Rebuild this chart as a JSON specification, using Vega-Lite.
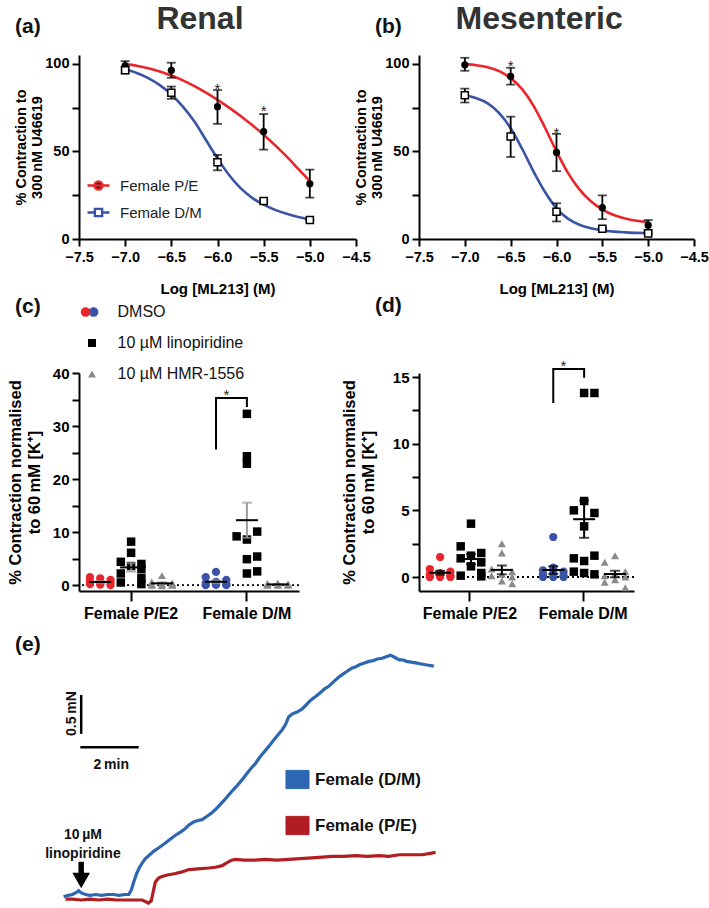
{
"$schema": "https://vega.github.io/schema/vega-lite/v6.json",
"padding": {"left": 7, "top": 3, "right": 0, "bottom": 0},
"bounds": "flush",
"spacing": 318,
"resolve": {"scale": {"color": "independent", "fill": "independent", "shape": "independent"}},
"config": {
  "font": "Liberation Sans",
  "view": {"stroke": null},
  "axis": {"grid": false, "domain": true, "ticks": true, "domainColor": "#000", "domainWidth": 2, "tickColor": "#000", "tickWidth": 2, "labelColor": "#000", "labelFontWeight": "bold", "titleColor": "#000", "titleFontWeight": "bold", "labelFont": "Liberation Sans", "titleFont": "Liberation Sans"},
  "legend": {"labelFont": "Liberation Sans"},
  "title": {"font": "Liberation Sans"},
  "text": {"font": "Liberation Sans"}
},
"vconcat": [
{
"hconcat": [
{
"width": 277, "height": 184,
"layer": [
 {"data": {"values": [
  {"s":"Female P/E","x":-7,"y":99.8},{"s":"Female P/E","x":-6.875,"y":98.9},{"s":"Female P/E","x":-6.75,"y":97.4},{"s":"Female P/E","x":-6.625,"y":95.6},{"s":"Female P/E","x":-6.5,"y":93.3},{"s":"Female P/E","x":-6.375,"y":90.5},{"s":"Female P/E","x":-6.25,"y":87.2},{"s":"Female P/E","x":-6.125,"y":83.5},{"s":"Female P/E","x":-6,"y":79.4},{"s":"Female P/E","x":-5.875,"y":75},{"s":"Female P/E","x":-5.75,"y":70.2},{"s":"Female P/E","x":-5.625,"y":65},{"s":"Female P/E","x":-5.5,"y":59.5},{"s":"Female P/E","x":-5.375,"y":53.4},{"s":"Female P/E","x":-5.25,"y":47},{"s":"Female P/E","x":-5.125,"y":40},{"s":"Female P/E","x":-5,"y":33},
  {"s":"Female D/M","x":-7,"y":96.8},{"s":"Female D/M","x":-6.875,"y":94.7},{"s":"Female D/M","x":-6.75,"y":91.8},{"s":"Female D/M","x":-6.625,"y":87.8},{"s":"Female D/M","x":-6.5,"y":82.5},{"s":"Female D/M","x":-6.375,"y":75.5},{"s":"Female D/M","x":-6.25,"y":67},{"s":"Female D/M","x":-6.125,"y":56.5},{"s":"Female D/M","x":-6,"y":46},{"s":"Female D/M","x":-5.875,"y":36.5},{"s":"Female D/M","x":-5.75,"y":29},{"s":"Female D/M","x":-5.625,"y":23.5},{"s":"Female D/M","x":-5.5,"y":19.6},{"s":"Female D/M","x":-5.375,"y":16.6},{"s":"Female D/M","x":-5.25,"y":14.4},{"s":"Female D/M","x":-5.125,"y":12.6},{"s":"Female D/M","x":-5,"y":11.2}
 ]},
 "mark": {"type": "line", "interpolate": "monotone", "strokeWidth": 2.6},
 "encoding": {
  "x": {"field": "x", "type": "quantitative", "scale": {"domain": [-7.5, -4.5], "nice": false, "zero": false}, "axis": {"values": [-7.5,-7,-6.5,-6,-5.5,-5,-4.5], "format": ".1f", "labelFontSize": 14.5, "labelFlush": false, "labelOverlap": false, "tickSize": 7, "labelPadding": 4, "title": "Log [ML213] (M)", "titleFontSize": 15, "titlePadding": 17.5}},
  "y": {"field": "y", "type": "quantitative", "scale": {"domain": [0, 105], "nice": false, "zero": false}, "axis": {"values": [0,25,50,75,100], "labelExpr": "datum.value % 50 === 0 ? datum.label : ''", "labelFontSize": 14.5, "labelOverlap": false, "tickSize": 7, "labelPadding": 3, "title": ["% Contraction to", "300\u2009nM U46619"], "titleFontSize": 14.5, "titlePadding": 0}},
  "color": {"field": "s", "type": "nominal", "scale": {"domain": ["Female P/E", "Female D/M"], "range": ["#e8262b", "#3a54a4"]},
   "legend": {"orient": "none", "legendX": 7, "legendY": 118, "title": null, "padding": 0, "symbolSize": 484, "symbolStrokeWidth": 2.4, "labelFontSize": 15, "labelFontWeight": "normal", "labelColor": "#222", "labelOffset": 9, "rowPadding": 5,
    "encode": {"symbols": {"update": {
      "shape": {"signal": "datum.value === 'Female P/E' ? 'M-1,0H1M0.36,0A0.36,0.36 0 1,1 -0.36,0A0.36,0.36 0 1,1 0.36,0Z' : 'M-1,0H-0.33M0.33,0H1M-0.33,-0.33H0.33V0.33H-0.33Z'"},
      "fill": {"signal": "datum.value === 'Female P/E' ? '#000000' : '#ffffff'"},
      "fillOpacity": {"value": 1}}}}}}
 }},
 {"data": {"values": [
  {"s":"Female P/E","x":-7,"y":99,"lo":96.5,"hi":101.5},{"s":"Female P/E","x":-6.5,"y":96.3,"lo":92,"hi":100.6},{"s":"Female P/E","x":-6,"y":75.5,"lo":65.7,"hi":85},{"s":"Female P/E","x":-5.5,"y":61.3,"lo":51,"hi":71.3},{"s":"Female P/E","x":-5,"y":31.5,"lo":23.6,"hi":39.6},
  {"s":"Female D/M","x":-7,"y":96.3,"lo":94.5,"hi":98},{"s":"Female D/M","x":-6.5,"y":83.5,"lo":80,"hi":87},{"s":"Female D/M","x":-6,"y":43.8,"lo":39.2,"hi":48},{"s":"Female D/M","x":-5.5,"y":21.7,"lo":21,"hi":22.4},{"s":"Female D/M","x":-5,"y":10.8,"lo":10.3,"hi":11.3}
 ]},
 "layer": [
  {"mark": {"type": "errorbar", "ticks": true, "size": 9, "thickness": 1.8, "color": "black"},
   "encoding": {
    "x": {"field": "x", "type": "quantitative", "scale": {"domain": [-7.5, -4.5], "nice": false, "zero": false}, "axis": {"values": [-7.5,-7,-6.5,-6,-5.5,-5,-4.5], "format": ".1f", "labelFontSize": 14.5, "labelFlush": false, "labelOverlap": false, "tickSize": 7, "labelPadding": 4, "title": "Log [ML213] (M)", "titleFontSize": 15, "titlePadding": 17.5}},
    "y": {"field": "lo", "type": "quantitative", "scale": {"domain": [0, 105], "nice": false, "zero": false}, "axis": {"values": [0,25,50,75,100], "labelExpr": "datum.value % 50 === 0 ? datum.label : ''", "labelFontSize": 14.5, "labelOverlap": false, "tickSize": 7, "labelPadding": 3, "title": ["% Contraction to", "300\u2009nM U46619"], "titleFontSize": 14.5, "titlePadding": 0}},
    "y2": {"field": "hi"}}},
  {"transform": [{"filter": "datum.s === 'Female P/E'"}],
   "mark": {"type": "point", "shape": "circle", "filled": true, "color": "black", "size": 52, "opacity": 1},
   "encoding": {
    "x": {"field": "x", "type": "quantitative", "scale": {"domain": [-7.5, -4.5], "nice": false, "zero": false}, "axis": {"values": [-7.5,-7,-6.5,-6,-5.5,-5,-4.5], "format": ".1f", "labelFontSize": 14.5, "labelFlush": false, "labelOverlap": false, "tickSize": 7, "labelPadding": 4, "title": "Log [ML213] (M)", "titleFontSize": 15, "titlePadding": 17.5}},
    "y": {"field": "y", "type": "quantitative", "scale": {"domain": [0, 105], "nice": false, "zero": false}, "axis": {"values": [0,25,50,75,100], "labelExpr": "datum.value % 50 === 0 ? datum.label : ''", "labelFontSize": 14.5, "labelOverlap": false, "tickSize": 7, "labelPadding": 3, "title": ["% Contraction to", "300\u2009nM U46619"], "titleFontSize": 14.5, "titlePadding": 0}}}},
  {"transform": [{"filter": "datum.s === 'Female D/M'"}],
   "mark": {"type": "point", "shape": "square", "filled": true, "fill": "white", "stroke": "black", "strokeWidth": 1.5, "size": 50, "opacity": 1},
   "encoding": {
    "x": {"field": "x", "type": "quantitative", "scale": {"domain": [-7.5, -4.5], "nice": false, "zero": false}, "axis": {"values": [-7.5,-7,-6.5,-6,-5.5,-5,-4.5], "format": ".1f", "labelFontSize": 14.5, "labelFlush": false, "labelOverlap": false, "tickSize": 7, "labelPadding": 4, "title": "Log [ML213] (M)", "titleFontSize": 15, "titlePadding": 17.5}},
    "y": {"field": "y", "type": "quantitative", "scale": {"domain": [0, 105], "nice": false, "zero": false}, "axis": {"values": [0,25,50,75,100], "labelExpr": "datum.value % 50 === 0 ? datum.label : ''", "labelFontSize": 14.5, "labelOverlap": false, "tickSize": 7, "labelPadding": 3, "title": ["% Contraction to", "300\u2009nM U46619"], "titleFontSize": 14.5, "titlePadding": 0}}}}
 ]},
 {"data": {"values": [{"x": -6, "y": 89.6}, {"x": -5.5, "y": 77}]},
  "mark": {"type": "text", "text": "*", "fontSize": 15, "dy": 7, "color": "#222"},
  "encoding": {
   "x": {"field": "x", "type": "quantitative", "scale": {"domain": [-7.5, -4.5], "nice": false, "zero": false}, "axis": {"values": [-7.5,-7,-6.5,-6,-5.5,-5,-4.5], "format": ".1f", "labelFontSize": 14.5, "labelFlush": false, "labelOverlap": false, "tickSize": 7, "labelPadding": 4, "title": "Log [ML213] (M)", "titleFontSize": 15, "titlePadding": 17.5}},
   "y": {"field": "y", "type": "quantitative", "scale": {"domain": [0, 105], "nice": false, "zero": false}, "axis": {"values": [0,25,50,75,100], "labelExpr": "datum.value % 50 === 0 ? datum.label : ''", "labelFontSize": 14.5, "labelOverlap": false, "tickSize": 7, "labelPadding": 3, "title": ["% Contraction to", "300\u2009nM U46619"], "titleFontSize": 14.5, "titlePadding": 0}}}},
 {"data": {"values": [{"lab": "(a)", "x": -8.193, "y": 121}]},
  "mark": {"type": "text", "fontSize": 21, "fontWeight": "bold", "align": "left", "baseline": "middle", "color": "#111"},
  "encoding": {
   "text": {"field": "lab"},
   "x": {"field": "x", "type": "quantitative", "scale": {"domain": [-7.5, -4.5], "nice": false, "zero": false}, "axis": {"values": [-7.5,-7,-6.5,-6,-5.5,-5,-4.5], "format": ".1f", "labelFontSize": 14.5, "labelFlush": false, "labelOverlap": false, "tickSize": 7, "labelPadding": 4, "title": "Log [ML213] (M)", "titleFontSize": 15, "titlePadding": 17.5}},
   "y": {"field": "y", "type": "quantitative", "scale": {"domain": [0, 105], "nice": false, "zero": false}, "axis": {"values": [0,25,50,75,100], "labelExpr": "datum.value % 50 === 0 ? datum.label : ''", "labelFontSize": 14.5, "labelOverlap": false, "tickSize": 7, "labelPadding": 3, "title": ["% Contraction to", "300\u2009nM U46619"], "titleFontSize": 14.5, "titlePadding": 0}}}},
 {"data": {"values": [{"lab": "Renal", "x": -6.19, "y": 125.4}]},
  "mark": {"type": "text", "fontSize": 32, "fontWeight": "bold", "align": "center", "baseline": "middle", "color": "#333"},
  "encoding": {
   "text": {"field": "lab"},
   "x": {"field": "x", "type": "quantitative", "scale": {"domain": [-7.5, -4.5], "nice": false, "zero": false}, "axis": {"values": [-7.5,-7,-6.5,-6,-5.5,-5,-4.5], "format": ".1f", "labelFontSize": 14.5, "labelFlush": false, "labelOverlap": false, "tickSize": 7, "labelPadding": 4, "title": "Log [ML213] (M)", "titleFontSize": 15, "titlePadding": 17.5}},
   "y": {"field": "y", "type": "quantitative", "scale": {"domain": [0, 105], "nice": false, "zero": false}, "axis": {"values": [0,25,50,75,100], "labelExpr": "datum.value % 50 === 0 ? datum.label : ''", "labelFontSize": 14.5, "labelOverlap": false, "tickSize": 7, "labelPadding": 3, "title": ["% Contraction to", "300\u2009nM U46619"], "titleFontSize": 14.5, "titlePadding": 0}}}}
]
},
{
"width": 275, "height": 184,
"layer": [
 {"data": {"values": [
  {"s":"Female P/E","x":-7,"y":99.8},{"s":"Female P/E","x":-6.875,"y":99.2},{"s":"Female P/E","x":-6.75,"y":98},{"s":"Female P/E","x":-6.625,"y":95.8},{"s":"Female P/E","x":-6.5,"y":91.8},{"s":"Female P/E","x":-6.375,"y":85.5},{"s":"Female P/E","x":-6.25,"y":76},{"s":"Female P/E","x":-6.125,"y":63.5},{"s":"Female P/E","x":-6,"y":50},{"s":"Female P/E","x":-5.875,"y":37.7},{"s":"Female P/E","x":-5.75,"y":28.3},{"s":"Female P/E","x":-5.625,"y":21.5},{"s":"Female P/E","x":-5.5,"y":16.8},{"s":"Female P/E","x":-5.375,"y":13.7},{"s":"Female P/E","x":-5.25,"y":11.7},{"s":"Female P/E","x":-5.125,"y":10.4},{"s":"Female P/E","x":-5,"y":9.6},
  {"s":"Female D/M","x":-7,"y":82},{"s":"Female D/M","x":-6.875,"y":80.3},{"s":"Female D/M","x":-6.75,"y":77.4},{"s":"Female D/M","x":-6.625,"y":71.8},{"s":"Female D/M","x":-6.5,"y":63.2},{"s":"Female D/M","x":-6.375,"y":51.5},{"s":"Female D/M","x":-6.25,"y":38.5},{"s":"Female D/M","x":-6.125,"y":26.8},{"s":"Female D/M","x":-6,"y":17.5},{"s":"Female D/M","x":-5.875,"y":11.6},{"s":"Female D/M","x":-5.75,"y":8.1},{"s":"Female D/M","x":-5.625,"y":6.1},{"s":"Female D/M","x":-5.5,"y":4.9},{"s":"Female D/M","x":-5.375,"y":4.2},{"s":"Female D/M","x":-5.25,"y":3.8},{"s":"Female D/M","x":-5.125,"y":3.5},{"s":"Female D/M","x":-5,"y":3.4}
 ]},
 "mark": {"type": "line", "interpolate": "monotone", "strokeWidth": 2.6},
 "encoding": {
  "x": {"field": "x", "type": "quantitative", "scale": {"domain": [-7.5, -4.5], "nice": false, "zero": false}, "axis": {"values": [-7.5,-7,-6.5,-6,-5.5,-5,-4.5], "format": ".1f", "labelFontSize": 14.5, "labelFlush": false, "labelOverlap": false, "tickSize": 7, "labelPadding": 4, "title": "Log [ML213] (M)", "titleFontSize": 15, "titlePadding": 17.5}},
  "y": {"field": "y", "type": "quantitative", "scale": {"domain": [0, 105], "nice": false, "zero": false}, "axis": {"values": [0,25,50,75,100], "labelExpr": "datum.value % 50 === 0 ? datum.label : ''", "labelFontSize": 14.5, "labelOverlap": false, "tickSize": 7, "labelPadding": 3, "title": ["% Contraction to", "300\u2009nM U46619"], "titleFontSize": 14.5, "titlePadding": 0}},
  "color": {"field": "s", "type": "nominal", "scale": {"domain": ["Female P/E", "Female D/M"], "range": ["#e8262b", "#3a54a4"]}, "legend": null}
 }},
 {"data": {"values": [
  {"s":"Female P/E","x":-7,"y":99.4,"lo":96,"hi":103.4},{"s":"Female P/E","x":-6.5,"y":92.8,"lo":88.1,"hi":97.7},{"s":"Female P/E","x":-6,"y":49.4,"lo":38.7,"hi":60},{"s":"Female P/E","x":-5.5,"y":17.9,"lo":11.3,"hi":24.9},{"s":"Female P/E","x":-5,"y":7.9,"lo":5.1,"hi":10.8},
  {"s":"Female D/M","x":-7,"y":82,"lo":77.9,"hi":85.8},{"s":"Female D/M","x":-6.5,"y":58.5,"lo":46.8,"hi":69.8},{"s":"Female D/M","x":-6,"y":15.5,"lo":10,"hi":20.4},{"s":"Female D/M","x":-5.5,"y":5.8,"lo":5.2,"hi":6.4},{"s":"Female D/M","x":-5,"y":3.2,"lo":2.6,"hi":3.8}
 ]},
 "layer": [
  {"mark": {"type": "errorbar", "ticks": true, "size": 9, "thickness": 1.8, "color": "black"},
   "encoding": {
    "x": {"field": "x", "type": "quantitative", "scale": {"domain": [-7.5, -4.5], "nice": false, "zero": false}, "axis": {"values": [-7.5,-7,-6.5,-6,-5.5,-5,-4.5], "format": ".1f", "labelFontSize": 14.5, "labelFlush": false, "labelOverlap": false, "tickSize": 7, "labelPadding": 4, "title": "Log [ML213] (M)", "titleFontSize": 15, "titlePadding": 17.5}},
    "y": {"field": "lo", "type": "quantitative", "scale": {"domain": [0, 105], "nice": false, "zero": false}, "axis": {"values": [0,25,50,75,100], "labelExpr": "datum.value % 50 === 0 ? datum.label : ''", "labelFontSize": 14.5, "labelOverlap": false, "tickSize": 7, "labelPadding": 3, "title": ["% Contraction to", "300\u2009nM U46619"], "titleFontSize": 14.5, "titlePadding": 0}},
    "y2": {"field": "hi"}}},
  {"transform": [{"filter": "datum.s === 'Female P/E'"}],
   "mark": {"type": "point", "shape": "circle", "filled": true, "color": "black", "size": 52, "opacity": 1},
   "encoding": {
    "x": {"field": "x", "type": "quantitative", "scale": {"domain": [-7.5, -4.5], "nice": false, "zero": false}, "axis": {"values": [-7.5,-7,-6.5,-6,-5.5,-5,-4.5], "format": ".1f", "labelFontSize": 14.5, "labelFlush": false, "labelOverlap": false, "tickSize": 7, "labelPadding": 4, "title": "Log [ML213] (M)", "titleFontSize": 15, "titlePadding": 17.5}},
    "y": {"field": "y", "type": "quantitative", "scale": {"domain": [0, 105], "nice": false, "zero": false}, "axis": {"values": [0,25,50,75,100], "labelExpr": "datum.value % 50 === 0 ? datum.label : ''", "labelFontSize": 14.5, "labelOverlap": false, "tickSize": 7, "labelPadding": 3, "title": ["% Contraction to", "300\u2009nM U46619"], "titleFontSize": 14.5, "titlePadding": 0}}}},
  {"transform": [{"filter": "datum.s === 'Female D/M'"}],
   "mark": {"type": "point", "shape": "square", "filled": true, "fill": "white", "stroke": "black", "strokeWidth": 1.5, "size": 50, "opacity": 1},
   "encoding": {
    "x": {"field": "x", "type": "quantitative", "scale": {"domain": [-7.5, -4.5], "nice": false, "zero": false}, "axis": {"values": [-7.5,-7,-6.5,-6,-5.5,-5,-4.5], "format": ".1f", "labelFontSize": 14.5, "labelFlush": false, "labelOverlap": false, "tickSize": 7, "labelPadding": 4, "title": "Log [ML213] (M)", "titleFontSize": 15, "titlePadding": 17.5}},
    "y": {"field": "y", "type": "quantitative", "scale": {"domain": [0, 105], "nice": false, "zero": false}, "axis": {"values": [0,25,50,75,100], "labelExpr": "datum.value % 50 === 0 ? datum.label : ''", "labelFontSize": 14.5, "labelOverlap": false, "tickSize": 7, "labelPadding": 3, "title": ["% Contraction to", "300\u2009nM U46619"], "titleFontSize": 14.5, "titlePadding": 0}}}}
 ]},
 {"data": {"values": [{"x": -6.5, "y": 102.8}, {"x": -6, "y": 64.5}]},
  "mark": {"type": "text", "text": "*", "fontSize": 15, "dy": 7, "color": "#222"},
  "encoding": {
   "x": {"field": "x", "type": "quantitative", "scale": {"domain": [-7.5, -4.5], "nice": false, "zero": false}, "axis": {"values": [-7.5,-7,-6.5,-6,-5.5,-5,-4.5], "format": ".1f", "labelFontSize": 14.5, "labelFlush": false, "labelOverlap": false, "tickSize": 7, "labelPadding": 4, "title": "Log [ML213] (M)", "titleFontSize": 15, "titlePadding": 17.5}},
   "y": {"field": "y", "type": "quantitative", "scale": {"domain": [0, 105], "nice": false, "zero": false}, "axis": {"values": [0,25,50,75,100], "labelExpr": "datum.value % 50 === 0 ? datum.label : ''", "labelFontSize": 14.5, "labelOverlap": false, "tickSize": 7, "labelPadding": 3, "title": ["% Contraction to", "300\u2009nM U46619"], "titleFontSize": 14.5, "titlePadding": 0}}}},
 {"data": {"values": [{"lab": "(b)", "x": -7.98, "y": 121}]},
  "mark": {"type": "text", "fontSize": 21, "fontWeight": "bold", "align": "left", "baseline": "middle", "color": "#111"},
  "encoding": {
   "text": {"field": "lab"},
   "x": {"field": "x", "type": "quantitative", "scale": {"domain": [-7.5, -4.5], "nice": false, "zero": false}, "axis": {"values": [-7.5,-7,-6.5,-6,-5.5,-5,-4.5], "format": ".1f", "labelFontSize": 14.5, "labelFlush": false, "labelOverlap": false, "tickSize": 7, "labelPadding": 4, "title": "Log [ML213] (M)", "titleFontSize": 15, "titlePadding": 17.5}},
   "y": {"field": "y", "type": "quantitative", "scale": {"domain": [0, 105], "nice": false, "zero": false}, "axis": {"values": [0,25,50,75,100], "labelExpr": "datum.value % 50 === 0 ? datum.label : ''", "labelFontSize": 14.5, "labelOverlap": false, "tickSize": 7, "labelPadding": 3, "title": ["% Contraction to", "300\u2009nM U46619"], "titleFontSize": 14.5, "titlePadding": 0}}}},
 {"data": {"values": [{"lab": "Mesenteric", "x": -6.19, "y": 125.4}]},
  "mark": {"type": "text", "fontSize": 32, "fontWeight": "bold", "align": "center", "baseline": "middle", "color": "#333"},
  "encoding": {
   "text": {"field": "lab"},
   "x": {"field": "x", "type": "quantitative", "scale": {"domain": [-7.5, -4.5], "nice": false, "zero": false}, "axis": {"values": [-7.5,-7,-6.5,-6,-5.5,-5,-4.5], "format": ".1f", "labelFontSize": 14.5, "labelFlush": false, "labelOverlap": false, "tickSize": 7, "labelPadding": 4, "title": "Log [ML213] (M)", "titleFontSize": 15, "titlePadding": 17.5}},
   "y": {"field": "y", "type": "quantitative", "scale": {"domain": [0, 105], "nice": false, "zero": false}, "axis": {"values": [0,25,50,75,100], "labelExpr": "datum.value % 50 === 0 ? datum.label : ''", "labelFontSize": 14.5, "labelOverlap": false, "tickSize": 7, "labelPadding": 3, "title": ["% Contraction to", "300\u2009nM U46619"], "titleFontSize": 14.5, "titlePadding": 0}}}}
]
}
],
"spacing": 63, "bounds": "flush",
"resolve": {"scale": {"color": "independent", "fill": "independent", "shape": "independent"}}
},
{
"hconcat": [
{
"width": 220, "height": 218,
"title": {"text": "(c)", "anchor": "start", "frame": "group", "dx": -64, "offset": -34, "fontSize": 21, "fontWeight": "bold", "color": "#111", "baseline": "bottom"},
"resolve": {"scale": {"color": "independent", "shape": "independent", "fill": "independent"}},
"layer": [
 {"data": {"values": [{"z": 0}]}, "mark": {"type": "rule", "strokeDash": [2, 3], "strokeWidth": 1.8, "color": "black"},
  "encoding": {"y": {"field": "z", "type": "quantitative", "scale": {"domain": [-1.1, 40], "nice": false, "zero": false}, "axis": {"values": [0,5,10,15,20,25,30,35,40], "labelExpr": "datum.value % 10 === 0 ? datum.label : ''", "labelFontSize": 15, "labelOverlap": false, "tickSize": 7, "labelPadding": 3, "title": ["% Contraction normalised", "to 60\u2009mM [K\u207a]"], "titleFontSize": 16.5, "titlePadding": 10}}}},
 {"data": {"values": [
  {"g":"P","t":"DMSO","s":"DMSO<","v":1.5},{"g":"P","t":"DMSO","s":"DMSO","v":1.3},{"g":"P","t":"DMSO","s":"DMSO>","v":1.0},{"g":"P","t":"DMSO","s":"DMSO<","v":0.7},{"g":"P","t":"DMSO","s":"DMSO","v":0.5},{"g":"P","t":"DMSO","s":"DMSO>","v":0.4},{"g":"P","t":"DMSO","s":"DMSO<","v":0.2},{"g":"P","t":"DMSO","s":"DMSO","v":0.1},{"g":"P","t":"DMSO","s":"DMSO>","v":0.0},{"g":"P","t":"DMSO","s":"DMSO","v":0.3},
  {"g":"P","t":"LINO","s":"LINO","v":8.2},{"g":"P","t":"LINO","s":"LINO","v":6.1},{"g":"P","t":"LINO","s":"LINO<","v":4.4},{"g":"P","t":"LINO","s":"LINO>","v":4.0},{"g":"P","t":"LINO","s":"LINO","v":3.6},{"g":"P","t":"LINO","s":"LINO>","v":3.0},{"g":"P","t":"LINO","s":"LINO<","v":2.2},{"g":"P","t":"LINO","s":"LINO>","v":1.3},{"g":"P","t":"LINO","s":"LINO<","v":0.5},{"g":"P","t":"LINO","s":"LINO>","v":0.2},
  {"g":"P","t":"HMR","s":"HMR","v":1.8},{"g":"P","t":"HMR","s":"HMR<","v":0.6},{"g":"P","t":"HMR","s":"HMR>","v":0.4},{"g":"P","t":"HMR","s":"HMR","v":0.2},{"g":"P","t":"HMR","s":"HMR<","v":0.1},{"g":"P","t":"HMR","s":"HMR>","v":0.0},{"g":"P","t":"HMR","s":"HMR","v":-0.1},{"g":"P","t":"HMR","s":"HMR>","v":0.1},{"g":"P","t":"HMR","s":"HMR<","v":0.0},
  {"g":"D","t":"DMSO","s":"DMSO","v":2.5},{"g":"D","t":"DMSO","s":"DMSO<","v":1.5},{"g":"D","t":"DMSO","s":"DMSO>","v":1.0},{"g":"D","t":"DMSO","s":"DMSO","v":0.6},{"g":"D","t":"DMSO","s":"DMSO<","v":0.4},{"g":"D","t":"DMSO","s":"DMSO>","v":0.2},{"g":"D","t":"DMSO","s":"DMSO","v":0.1},{"g":"D","t":"DMSO","s":"DMSO<","v":0.0},{"g":"D","t":"DMSO","s":"DMSO>","v":0.0},{"g":"D","t":"DMSO","s":"DMSO","v":0.1},
  {"g":"D","t":"LINO","s":"LINO","v":32.3},{"g":"D","t":"LINO","s":"LINO","v":24.3},{"g":"D","t":"LINO","s":"LINO","v":22.9},{"g":"D","t":"LINO","s":"LINO>","v":10.1},{"g":"D","t":"LINO","s":"LINO<","v":9.2},{"g":"D","t":"LINO","s":"LINO","v":8.6},{"g":"D","t":"LINO","s":"LINO>","v":5.4},{"g":"D","t":"LINO","s":"LINO","v":4.9},{"g":"D","t":"LINO","s":"LINO>","v":2.6},{"g":"D","t":"LINO","s":"LINO","v":2.2},
  {"g":"D","t":"HMR","s":"HMR","v":0.4},{"g":"D","t":"HMR","s":"HMR<","v":0.3},{"g":"D","t":"HMR","s":"HMR>","v":0.2},{"g":"D","t":"HMR","s":"HMR","v":0.1},{"g":"D","t":"HMR","s":"HMR<","v":0.1},{"g":"D","t":"HMR","s":"HMR>","v":0.0},{"g":"D","t":"HMR","s":"HMR","v":0.0},{"g":"D","t":"HMR","s":"HMR<","v":0.0},{"g":"D","t":"HMR","s":"HMR>","v":0.2}
 ]},
 "layer": [
  {"encoding": {
    "x": {"field": "g", "type": "nominal", "scale": {"domain": ["P", "D"], "paddingInner": 0.2, "paddingOuter": 0.05}, "axis": {"labelExpr": "datum.value === 'P' ? 'Female P/E2' : 'Female D/M'", "labelFontSize": 16, "tickSize": 10, "labelPadding": 4, "labelAngle": 0, "title": null}},
    "xOffset": {"field": "s", "type": "nominal", "scale": {"type": "point", "domain": ["DMSO<","DMSO","DMSO>","LINO<","LINO","LINO>","HMR<","HMR","HMR>"], "padding": 0.5}},
    "y": {"field": "v", "type": "quantitative", "scale": {"domain": [-1.1, 40], "nice": false, "zero": false}, "axis": {"values": [0,5,10,15,20,25,30,35,40], "labelExpr": "datum.value % 10 === 0 ? datum.label : ''", "labelFontSize": 15, "labelOverlap": false, "tickSize": 7, "labelPadding": 3, "title": ["% Contraction normalised", "to 60\u2009mM [K\u207a]"], "titleFontSize": 16.5, "titlePadding": 10}},
    "color": {"condition": {"test": "datum.t === 'DMSO' && datum.g === 'D'", "value": "#3a53a6"}, "field": "t", "type": "nominal", "scale": {"domain": ["DMSO", "LINO", "HMR"], "range": ["#e8252a", "#000000", "#8a8a8a"]}, "legend": null}},
   "layer": [
    {"transform": [{"filter": "datum.t === 'DMSO'"}], "mark": {"type": "point", "shape": "circle", "filled": true, "size": 68, "opacity": 1}},
    {"transform": [{"filter": "datum.t === 'LINO'"}], "mark": {"type": "point", "shape": "square", "filled": true, "size": 72, "opacity": 1}},
    {"transform": [{"filter": "datum.t === 'HMR'"}], "mark": {"type": "point", "shape": "triangle-up", "filled": true, "size": 64, "opacity": 1}}
   ]},
  {"mark": {"type": "errorbar", "extent": "stderr", "ticks": true, "size": 10, "thickness": 2, "color": "#9a9a9a"},
   "encoding": {
    "x": {"field": "g", "type": "nominal", "scale": {"domain": ["P", "D"], "paddingInner": 0.2, "paddingOuter": 0.05}, "axis": {"labelExpr": "datum.value === 'P' ? 'Female P/E2' : 'Female D/M'", "labelFontSize": 16, "tickSize": 10, "labelPadding": 4, "labelAngle": 0, "title": null}},
    "xOffset": {"field": "t", "type": "nominal", "scale": {"type": "point", "domain": ["DMSO<","DMSO","DMSO>","LINO<","LINO","LINO>","HMR<","HMR","HMR>"], "padding": 0.5}},
    "y": {"field": "v", "type": "quantitative", "scale": {"domain": [-1.1, 40], "nice": false, "zero": false}, "axis": {"values": [0,5,10,15,20,25,30,35,40], "labelExpr": "datum.value % 10 === 0 ? datum.label : ''", "labelFontSize": 15, "labelOverlap": false, "tickSize": 7, "labelPadding": 3, "title": ["% Contraction normalised", "to 60\u2009mM [K\u207a]"], "titleFontSize": 16.5, "titlePadding": 10}}}},
  {"mark": {"type": "tick", "size": 22, "thickness": 2, "color": "black"},
   "encoding": {
    "x": {"field": "g", "type": "nominal", "scale": {"domain": ["P", "D"], "paddingInner": 0.2, "paddingOuter": 0.05}, "axis": {"labelExpr": "datum.value === 'P' ? 'Female P/E2' : 'Female D/M'", "labelFontSize": 16, "tickSize": 10, "labelPadding": 4, "labelAngle": 0, "title": null}},
    "xOffset": {"field": "t", "type": "nominal", "scale": {"type": "point", "domain": ["DMSO<","DMSO","DMSO>","LINO<","LINO","LINO>","HMR<","HMR","HMR>"], "padding": 0.5}},
    "y": {"aggregate": "mean", "field": "v", "type": "quantitative", "scale": {"domain": [-1.1, 40], "nice": false, "zero": false}, "axis": {"values": [0,5,10,15,20,25,30,35,40], "labelExpr": "datum.value % 10 === 0 ? datum.label : ''", "labelFontSize": 15, "labelOverlap": false, "tickSize": 7, "labelPadding": 3, "title": ["% Contraction normalised", "to 60\u2009mM [K\u207a]"], "titleFontSize": 16.5, "titlePadding": 10}}}}
 ]},
 {"data": {"values": [{"g":"D","s":"DMSO","v":25.6,"o":1},{"g":"D","s":"DMSO","v":35.3,"o":2},{"g":"D","s":"LINO","v":35.3,"o":3},{"g":"D","s":"LINO","v":33.6,"o":4}]},
  "mark": {"type": "line", "color": "black", "strokeWidth": 2},
  "encoding": {
   "x": {"field": "g", "type": "nominal", "scale": {"domain": ["P", "D"], "paddingInner": 0.2, "paddingOuter": 0.05}, "axis": {"labelExpr": "datum.value === 'P' ? 'Female P/E2' : 'Female D/M'", "labelFontSize": 16, "tickSize": 10, "labelPadding": 4, "labelAngle": 0, "title": null}},
   "xOffset": {"field": "s", "type": "nominal", "scale": {"type": "point", "domain": ["DMSO<","DMSO","DMSO>","LINO<","LINO","LINO>","HMR<","HMR","HMR>"], "padding": 0.5}},
   "y": {"field": "v", "type": "quantitative", "scale": {"domain": [-1.1, 40], "nice": false, "zero": false}, "axis": {"values": [0,5,10,15,20,25,30,35,40], "labelExpr": "datum.value % 10 === 0 ? datum.label : ''", "labelFontSize": 15, "labelOverlap": false, "tickSize": 7, "labelPadding": 3, "title": ["% Contraction normalised", "to 60\u2009mM [K\u207a]"], "titleFontSize": 16.5, "titlePadding": 10}},
   "order": {"field": "o", "type": "quantitative"}}},
 {"data": {"values": [{"g":"D","s":"DMSO>","v":37.2}]},
  "mark": {"type": "text", "text": "*", "fontSize": 15, "dy": 7, "color": "#222"},
  "encoding": {
   "x": {"field": "g", "type": "nominal", "scale": {"domain": ["P", "D"], "paddingInner": 0.2, "paddingOuter": 0.05}, "axis": {"labelExpr": "datum.value === 'P' ? 'Female P/E2' : 'Female D/M'", "labelFontSize": 16, "tickSize": 10, "labelPadding": 4, "labelAngle": 0, "title": null}},
   "xOffset": {"field": "s", "type": "nominal", "scale": {"type": "point", "domain": ["DMSO<","DMSO","DMSO>","LINO<","LINO","LINO>","HMR<","HMR","HMR>"], "padding": 0.5}},
   "y": {"field": "v", "type": "quantitative", "scale": {"domain": [-1.1, 40], "nice": false, "zero": false}, "axis": {"values": [0,5,10,15,20,25,30,35,40], "labelExpr": "datum.value % 10 === 0 ? datum.label : ''", "labelFontSize": 15, "labelOverlap": false, "tickSize": 7, "labelPadding": 3, "title": ["% Contraction normalised", "to 60\u2009mM [K\u207a]"], "titleFontSize": 16.5, "titlePadding": 10}}}},
 {"data": {"values": [{"t": "DMSO"}, {"t": "LINO"}, {"t": "HMR"}]},
  "mark": {"type": "point", "filled": true, "opacity": 0},
  "encoding": {
   "color": {"field": "t", "type": "nominal", "scale": {"domain": ["DMSO", "LINO", "HMR"], "range": ["#3a53a6", "#000000", "#8a8a8a"]},
    "legend": {"orient": "none", "legendX": 5, "legendY": -69, "title": null, "padding": 0, "symbolSize": 64, "labelFontSize": 16, "labelFontWeight": "normal", "labelColor": "#111", "labelOffset": 17.5, "rowPadding": 15,
     "labelExpr": "datum.value === 'LINO' ? '10 µM linopiridine' : datum.value === 'HMR' ? '10 µM HMR-1556' : 'DMSO'",
     "encode": {"symbols": {"update": {"opacity": {"value": 1}, "fillOpacity": {"value": 1}, "strokeWidth": {"value": 0}}}}}},
   "shape": {"field": "t", "type": "nominal", "scale": {"domain": ["DMSO", "LINO", "HMR"], "range": ["M-0.8,0A1.2,1.2 0 1,1 1.6,0A1.2,1.2 0 1,1 -0.8,0Z", "square", "triangle-up"]}, "legend": null}}},
 {"data": {"values": [{"t": "DMSO"}]},
  "mark": {"type": "point", "filled": true, "opacity": 0},
  "encoding": {
   "fill": {"field": "t", "type": "nominal", "scale": {"domain": ["DMSO"], "range": ["#e8252a"]},
    "legend": {"orient": "none", "legendX": 5, "legendY": -69, "title": null, "padding": 0, "symbolType": "M-2.8,0A1.2,1.2 0 1,1 -0.4,0A1.2,1.2 0 1,1 -2.8,0Z", "symbolSize": 64, "labelFontSize": 16, "labelExpr": "''",
     "encode": {"symbols": {"update": {"opacity": {"value": 1}, "fillOpacity": {"value": 1}, "strokeWidth": {"value": 0}}}}}}}}
]
},
{
"width": 215, "height": 218,
"title": {"text": "(d)", "anchor": "start", "frame": "group", "dx": -44, "offset": 22, "fontSize": 21, "fontWeight": "bold", "color": "#111", "baseline": "bottom"},
"layer": [
 {"data": {"values": [{"z": 0}]}, "mark": {"type": "rule", "strokeDash": [2, 3], "strokeWidth": 1.8, "color": "black"},
  "encoding": {"y": {"field": "z", "type": "quantitative", "scale": {"domain": [-1.05, 15.3], "nice": false, "zero": false}, "axis": {"values": [0,2.5,5,7.5,10,12.5,15], "labelExpr": "datum.value % 5 === 0 ? datum.label : ''", "labelFontSize": 15, "labelOverlap": false, "tickSize": 7, "labelPadding": 3, "title": ["% Contraction normalised", "to 60\u2009mM [K\u207a]"], "titleFontSize": 16.5, "titlePadding": 16}}}},
 {"data": {"values": [
  {"g":"P","t":"DMSO","s":"DMSO","v":1.5},{"g":"P","t":"DMSO","s":"DMSO<","v":0.6},{"g":"P","t":"DMSO","s":"DMSO>","v":0.4},{"g":"P","t":"DMSO","s":"DMSO","v":0.3},{"g":"P","t":"DMSO","s":"DMSO<","v":0.2},{"g":"P","t":"DMSO","s":"DMSO>","v":0.1},{"g":"P","t":"DMSO","s":"DMSO","v":0.1},{"g":"P","t":"DMSO","s":"DMSO<","v":0.0},{"g":"P","t":"DMSO","s":"DMSO>","v":0.0},{"g":"P","t":"DMSO","s":"DMSO","v":0.0},
  {"g":"P","t":"LINO","s":"LINO","v":4.0},{"g":"P","t":"LINO","s":"LINO<","v":2.3},{"g":"P","t":"LINO","s":"LINO>","v":1.8},{"g":"P","t":"LINO","s":"LINO","v":1.6},{"g":"P","t":"LINO","s":"LINO<","v":1.4},{"g":"P","t":"LINO","s":"LINO>","v":1.1},{"g":"P","t":"LINO","s":"LINO","v":0.8},{"g":"P","t":"LINO","s":"LINO>","v":0.3},{"g":"P","t":"LINO","s":"LINO<","v":0.1},{"g":"P","t":"LINO","s":"LINO>","v":0.05},
  {"g":"P","t":"HMR","s":"HMR","v":2.5},{"g":"P","t":"HMR","s":"HMR","v":1.8},{"g":"P","t":"HMR","s":"HMR<","v":0.6},{"g":"P","t":"HMR","s":"HMR>","v":0.4},{"g":"P","t":"HMR","s":"HMR","v":0.2},{"g":"P","t":"HMR","s":"HMR<","v":0.1},{"g":"P","t":"HMR","s":"HMR>","v":0.0},{"g":"P","t":"HMR","s":"HMR","v":-0.3},{"g":"P","t":"HMR","s":"HMR>","v":-0.5},
  {"g":"D","t":"DMSO","s":"DMSO","v":3.0},{"g":"D","t":"DMSO","s":"DMSO","v":0.7},{"g":"D","t":"DMSO","s":"DMSO<","v":0.5},{"g":"D","t":"DMSO","s":"DMSO>","v":0.4},{"g":"D","t":"DMSO","s":"DMSO","v":0.3},{"g":"D","t":"DMSO","s":"DMSO<","v":0.2},{"g":"D","t":"DMSO","s":"DMSO>","v":0.1},{"g":"D","t":"DMSO","s":"DMSO","v":0.0},{"g":"D","t":"DMSO","s":"DMSO<","v":0.0},{"g":"D","t":"DMSO","s":"DMSO>","v":0.0},
  {"g":"D","t":"LINO","s":"LINO","v":13.8},{"g":"D","t":"LINO","s":"LINO>","v":13.8},{"g":"D","t":"LINO","s":"LINO","v":5.7},{"g":"D","t":"LINO","s":"LINO<","v":5.0},{"g":"D","t":"LINO","s":"LINO>","v":4.8},{"g":"D","t":"LINO","s":"LINO","v":3.8},{"g":"D","t":"LINO","s":"LINO>","v":1.6},{"g":"D","t":"LINO","s":"LINO<","v":1.4},{"g":"D","t":"LINO","s":"LINO","v":1.2},{"g":"D","t":"LINO","s":"LINO<","v":0.4},{"g":"D","t":"LINO","s":"LINO>","v":0.2},{"g":"D","t":"LINO","s":"LINO","v":0.3},
  {"g":"D","t":"HMR","s":"HMR","v":1.6},{"g":"D","t":"HMR","s":"HMR<","v":1.1},{"g":"D","t":"HMR","s":"HMR>","v":0.4},{"g":"D","t":"HMR","s":"HMR","v":0.2},{"g":"D","t":"HMR","s":"HMR<","v":0.1},{"g":"D","t":"HMR","s":"HMR>","v":0.0},{"g":"D","t":"HMR","s":"HMR","v":-0.2},{"g":"D","t":"HMR","s":"HMR<","v":-0.4},{"g":"D","t":"HMR","s":"HMR>","v":-0.8}
 ]},
 "layer": [
  {"encoding": {
    "x": {"field": "g", "type": "nominal", "scale": {"domain": ["P", "D"], "paddingInner": 0.2, "paddingOuter": 0.05}, "axis": {"labelExpr": "datum.value === 'P' ? 'Female P/E2' : 'Female D/M'", "labelFontSize": 16, "tickSize": 10, "labelPadding": 4, "labelAngle": 0, "title": null}},
    "xOffset": {"field": "s", "type": "nominal", "scale": {"type": "point", "domain": ["DMSO<","DMSO","DMSO>","LINO<","LINO","LINO>","HMR<","HMR","HMR>"], "padding": 0.5}},
    "y": {"field": "v", "type": "quantitative", "scale": {"domain": [-1.05, 15.3], "nice": false, "zero": false}, "axis": {"values": [0,2.5,5,7.5,10,12.5,15], "labelExpr": "datum.value % 5 === 0 ? datum.label : ''", "labelFontSize": 15, "labelOverlap": false, "tickSize": 7, "labelPadding": 3, "title": ["% Contraction normalised", "to 60\u2009mM [K\u207a]"], "titleFontSize": 16.5, "titlePadding": 16}},
    "color": {"condition": {"test": "datum.t === 'DMSO' && datum.g === 'D'", "value": "#3a53a6"}, "field": "t", "type": "nominal", "scale": {"domain": ["DMSO", "LINO", "HMR"], "range": ["#e8252a", "#000000", "#8a8a8a"]}, "legend": null}},
   "layer": [
    {"transform": [{"filter": "datum.t === 'DMSO'"}], "mark": {"type": "point", "shape": "circle", "filled": true, "size": 68, "opacity": 1}},
    {"transform": [{"filter": "datum.t === 'LINO'"}], "mark": {"type": "point", "shape": "square", "filled": true, "size": 72, "opacity": 1}},
    {"transform": [{"filter": "datum.t === 'HMR'"}], "mark": {"type": "point", "shape": "triangle-up", "filled": true, "size": 64, "opacity": 1}}
   ]},
  {"mark": {"type": "errorbar", "extent": "stderr", "ticks": true, "size": 10, "thickness": 2, "color": "black"},
   "encoding": {
    "x": {"field": "g", "type": "nominal", "scale": {"domain": ["P", "D"], "paddingInner": 0.2, "paddingOuter": 0.05}, "axis": {"labelExpr": "datum.value === 'P' ? 'Female P/E2' : 'Female D/M'", "labelFontSize": 16, "tickSize": 10, "labelPadding": 4, "labelAngle": 0, "title": null}},
    "xOffset": {"field": "t", "type": "nominal", "scale": {"type": "point", "domain": ["DMSO<","DMSO","DMSO>","LINO<","LINO","LINO>","HMR<","HMR","HMR>"], "padding": 0.5}},
    "y": {"field": "v", "type": "quantitative", "scale": {"domain": [-1.05, 15.3], "nice": false, "zero": false}, "axis": {"values": [0,2.5,5,7.5,10,12.5,15], "labelExpr": "datum.value % 5 === 0 ? datum.label : ''", "labelFontSize": 15, "labelOverlap": false, "tickSize": 7, "labelPadding": 3, "title": ["% Contraction normalised", "to 60\u2009mM [K\u207a]"], "titleFontSize": 16.5, "titlePadding": 16}}}},
  {"mark": {"type": "tick", "size": 22, "thickness": 2, "color": "black"},
   "encoding": {
    "x": {"field": "g", "type": "nominal", "scale": {"domain": ["P", "D"], "paddingInner": 0.2, "paddingOuter": 0.05}, "axis": {"labelExpr": "datum.value === 'P' ? 'Female P/E2' : 'Female D/M'", "labelFontSize": 16, "tickSize": 10, "labelPadding": 4, "labelAngle": 0, "title": null}},
    "xOffset": {"field": "t", "type": "nominal", "scale": {"type": "point", "domain": ["DMSO<","DMSO","DMSO>","LINO<","LINO","LINO>","HMR<","HMR","HMR>"], "padding": 0.5}},
    "y": {"aggregate": "mean", "field": "v", "type": "quantitative", "scale": {"domain": [-1.05, 15.3], "nice": false, "zero": false}, "axis": {"values": [0,2.5,5,7.5,10,12.5,15], "labelExpr": "datum.value % 5 === 0 ? datum.label : ''", "labelFontSize": 15, "labelOverlap": false, "tickSize": 7, "labelPadding": 3, "title": ["% Contraction normalised", "to 60\u2009mM [K\u207a]"], "titleFontSize": 16.5, "titlePadding": 16}}}}
 ]},
 {"data": {"values": [{"g":"D","s":"DMSO","v":13.05,"o":1},{"g":"D","s":"DMSO","v":15.6,"o":2},{"g":"D","s":"LINO","v":15.6,"o":3},{"g":"D","s":"LINO","v":14.95,"o":4}]},
  "mark": {"type": "line", "color": "black", "strokeWidth": 2},
  "encoding": {
   "x": {"field": "g", "type": "nominal", "scale": {"domain": ["P", "D"], "paddingInner": 0.2, "paddingOuter": 0.05}, "axis": {"labelExpr": "datum.value === 'P' ? 'Female P/E2' : 'Female D/M'", "labelFontSize": 16, "tickSize": 10, "labelPadding": 4, "labelAngle": 0, "title": null}},
   "xOffset": {"field": "s", "type": "nominal", "scale": {"type": "point", "domain": ["DMSO<","DMSO","DMSO>","LINO<","LINO","LINO>","HMR<","HMR","HMR>"], "padding": 0.5}},
   "y": {"field": "v", "type": "quantitative", "scale": {"domain": [-1.05, 15.3], "nice": false, "zero": false}, "axis": {"values": [0,2.5,5,7.5,10,12.5,15], "labelExpr": "datum.value % 5 === 0 ? datum.label : ''", "labelFontSize": 15, "labelOverlap": false, "tickSize": 7, "labelPadding": 3, "title": ["% Contraction normalised", "to 60\u2009mM [K\u207a]"], "titleFontSize": 16.5, "titlePadding": 16}},
   "order": {"field": "o", "type": "quantitative"}}},
 {"data": {"values": [{"g":"D","s":"DMSO>","v":16.35}]},
  "mark": {"type": "text", "text": "*", "fontSize": 15, "dy": 7, "color": "#222"},
  "encoding": {
   "x": {"field": "g", "type": "nominal", "scale": {"domain": ["P", "D"], "paddingInner": 0.2, "paddingOuter": 0.05}, "axis": {"labelExpr": "datum.value === 'P' ? 'Female P/E2' : 'Female D/M'", "labelFontSize": 16, "tickSize": 10, "labelPadding": 4, "labelAngle": 0, "title": null}},
   "xOffset": {"field": "s", "type": "nominal", "scale": {"type": "point", "domain": ["DMSO<","DMSO","DMSO>","LINO<","LINO","LINO>","HMR<","HMR","HMR>"], "padding": 0.5}},
   "y": {"field": "v", "type": "quantitative", "scale": {"domain": [-1.05, 15.3], "nice": false, "zero": false}, "axis": {"values": [0,2.5,5,7.5,10,12.5,15], "labelExpr": "datum.value % 5 === 0 ? datum.label : ''", "labelFontSize": 15, "labelOverlap": false, "tickSize": 7, "labelPadding": 3, "title": ["% Contraction normalised", "to 60\u2009mM [K\u207a]"], "titleFontSize": 16.5, "titlePadding": 16}}}}
]
}
],
"spacing": 120, "bounds": "flush",
"resolve": {"scale": {"color": "independent", "fill": "independent", "shape": "independent"}}
},
{
"width": 370, "height": 216,
"title": {"text": "(e)", "anchor": "start", "frame": "group", "dx": -64, "offset": -27, "fontSize": 21, "fontWeight": "bold", "color": "#111", "baseline": "bottom"},
"layer": [
 {"data": {"values": [
  {"w":"DM","t":0,"F":0.03},{"w":"DM","t":0.15,"F":0.05},{"w":"DM","t":0.3,"F":0.06},{"w":"DM","t":0.45,"F":0.09},{"w":"DM","t":0.51,"F":0.11},{"w":"DM","t":0.6,"F":0.08},{"w":"DM","t":0.75,"F":0.06},{"w":"DM","t":0.9,"F":0.05},{"w":"DM","t":1.1,"F":0.06},{"w":"DM","t":1.3,"F":0.05},{"w":"DM","t":1.5,"F":0.06},{"w":"DM","t":1.7,"F":0.06},{"w":"DM","t":1.9,"F":0.05},{"w":"DM","t":2.1,"F":0.06},{"w":"DM","t":2.23,"F":0.06},{"w":"DM","t":2.32,"F":0.12},{"w":"DM","t":2.4,"F":0.22},{"w":"DM","t":2.5,"F":0.33},{"w":"DM","t":2.6,"F":0.41},{"w":"DM","t":2.7,"F":0.47},{"w":"DM","t":2.8,"F":0.52},{"w":"DM","t":2.95,"F":0.57},{"w":"DM","t":3.1,"F":0.62},{"w":"DM","t":3.26,"F":0.66},{"w":"DM","t":3.45,"F":0.71},{"w":"DM","t":3.65,"F":0.77},{"w":"DM","t":3.83,"F":0.82},{"w":"DM","t":4.0,"F":0.86},{"w":"DM","t":4.15,"F":0.9},{"w":"DM","t":4.29,"F":0.95},{"w":"DM","t":4.45,"F":0.99},{"w":"DM","t":4.6,"F":1.01},{"w":"DM","t":4.74,"F":1.02},{"w":"DM","t":4.9,"F":1.06},{"w":"DM","t":5.05,"F":1.1},{"w":"DM","t":5.2,"F":1.15},{"w":"DM","t":5.35,"F":1.21},{"w":"DM","t":5.5,"F":1.27},{"w":"DM","t":5.66,"F":1.34},{"w":"DM","t":5.8,"F":1.4},{"w":"DM","t":5.95,"F":1.46},{"w":"DM","t":6.11,"F":1.53},{"w":"DM","t":6.25,"F":1.6},{"w":"DM","t":6.4,"F":1.67},{"w":"DM","t":6.57,"F":1.74},{"w":"DM","t":6.7,"F":1.81},{"w":"DM","t":6.85,"F":1.88},{"w":"DM","t":7.03,"F":1.96},{"w":"DM","t":7.15,"F":2.02},{"w":"DM","t":7.3,"F":2.09},{"w":"DM","t":7.48,"F":2.17},{"w":"DM","t":7.6,"F":2.24},{"w":"DM","t":7.71,"F":2.34},{"w":"DM","t":7.85,"F":2.38},{"w":"DM","t":8.0,"F":2.4},{"w":"DM","t":8.17,"F":2.44},{"w":"DM","t":8.3,"F":2.49},{"w":"DM","t":8.45,"F":2.55},{"w":"DM","t":8.63,"F":2.6},{"w":"DM","t":8.8,"F":2.65},{"w":"DM","t":8.95,"F":2.7},{"w":"DM","t":9.08,"F":2.73},{"w":"DM","t":9.25,"F":2.79},{"w":"DM","t":9.4,"F":2.84},{"w":"DM","t":9.54,"F":2.88},{"w":"DM","t":9.7,"F":2.92},{"w":"DM","t":9.85,"F":2.96},{"w":"DM","t":10.0,"F":2.98},{"w":"DM","t":10.15,"F":3.01},{"w":"DM","t":10.3,"F":3.03},{"w":"DM","t":10.46,"F":3.05},{"w":"DM","t":10.6,"F":3.06},{"w":"DM","t":10.75,"F":3.08},{"w":"DM","t":10.91,"F":3.09},{"w":"DM","t":11.05,"F":3.11},{"w":"DM","t":11.2,"F":3.13},{"w":"DM","t":11.35,"F":3.1},{"w":"DM","t":11.5,"F":3.07},{"w":"DM","t":11.6,"F":3.07},{"w":"DM","t":11.75,"F":3.05},{"w":"DM","t":11.9,"F":3.04},{"w":"DM","t":12.06,"F":3.03},{"w":"DM","t":12.2,"F":3.02},{"w":"DM","t":12.35,"F":3.01},{"w":"DM","t":12.5,"F":3.0},{"w":"DM","t":12.68,"F":2.99},
  {"w":"PE","t":0.06,"F":0.0},{"w":"PE","t":0.3,"F":0.0},{"w":"PE","t":0.6,"F":-0.01},{"w":"PE","t":0.9,"F":0.0},{"w":"PE","t":1.2,"F":-0.01},{"w":"PE","t":1.5,"F":0.0},{"w":"PE","t":1.8,"F":-0.01},{"w":"PE","t":2.1,"F":-0.01},{"w":"PE","t":2.4,"F":-0.01},{"w":"PE","t":2.68,"F":-0.01},{"w":"PE","t":2.8,"F":-0.03},{"w":"PE","t":2.9,"F":-0.05},{"w":"PE","t":3.0,"F":-0.02},{"w":"PE","t":3.07,"F":0.1},{"w":"PE","t":3.14,"F":0.22},{"w":"PE","t":3.25,"F":0.27},{"w":"PE","t":3.37,"F":0.29},{"w":"PE","t":3.55,"F":0.31},{"w":"PE","t":3.83,"F":0.33},{"w":"PE","t":4.05,"F":0.35},{"w":"PE","t":4.29,"F":0.38},{"w":"PE","t":4.6,"F":0.39},{"w":"PE","t":4.97,"F":0.4},{"w":"PE","t":5.2,"F":0.41},{"w":"PE","t":5.43,"F":0.43},{"w":"PE","t":5.6,"F":0.47},{"w":"PE","t":5.75,"F":0.5},{"w":"PE","t":5.88,"F":0.51},{"w":"PE","t":6.2,"F":0.5},{"w":"PE","t":6.57,"F":0.5},{"w":"PE","t":6.9,"F":0.51},{"w":"PE","t":7.3,"F":0.5},{"w":"PE","t":7.71,"F":0.51},{"w":"PE","t":8.1,"F":0.52},{"w":"PE","t":8.5,"F":0.53},{"w":"PE","t":8.86,"F":0.54},{"w":"PE","t":9.2,"F":0.55},{"w":"PE","t":9.6,"F":0.55},{"w":"PE","t":10.0,"F":0.56},{"w":"PE","t":10.4,"F":0.55},{"w":"PE","t":10.8,"F":0.56},{"w":"PE","t":11.14,"F":0.55},{"w":"PE","t":11.5,"F":0.57},{"w":"PE","t":11.9,"F":0.57},{"w":"PE","t":12.29,"F":0.57},{"w":"PE","t":12.6,"F":0.59},{"w":"PE","t":12.74,"F":0.6}
 ]},
 "mark": {"type": "line", "strokeWidth": 3.2},
 "encoding": {
  "x": {"field": "t", "type": "quantitative", "scale": {"domain": [0.525, 13.2], "nice": false, "zero": false}, "axis": null},
  "y": {"field": "F", "type": "quantitative", "scale": {"domain": [-0.1, 2.67], "nice": false, "zero": false}, "axis": null},
  "color": {"field": "w", "type": "nominal", "scale": {"domain": ["DM", "PE"], "range": ["#2e67b1", "#b01e23"]},
   "legend": {"orient": "none", "legendX": 208, "legendY": 78, "title": null, "padding": 0, "symbolType": "M-1.2,-0.95H1.2V0.95H-1.2Z", "symbolSize": 369, "labelFontSize": 17, "labelFontWeight": "bold", "labelColor": "#111", "labelOffset": 7, "rowPadding": 23,
    "labelExpr": "datum.value === 'DM' ? 'Female (D/M)' : 'Female (P/E)'",
    "encode": {"symbols": {"update": {"fill": {"signal": "datum.value === 'DM' ? '#2e67b1' : '#b01e23'"}, "fillOpacity": {"value": 1}, "stroke": {"value": "#333333"}, "strokeWidth": {"value": 1}}}}}}
 }},
 {"data": {"values": [{"t": 0.6, "F": 2.12, "t2": 0.6, "F2": 2.62}, {"t": 0.57, "F": 1.95, "t2": 2.57, "F2": 1.95}]},
  "mark": {"type": "rule", "strokeWidth": 2.5, "color": "black"},
  "encoding": {
   "x": {"field": "t", "type": "quantitative", "scale": {"domain": [0.525, 13.2], "nice": false, "zero": false}, "axis": null},
   "x2": {"field": "t2"},
   "y": {"field": "F", "type": "quantitative", "scale": {"domain": [-0.1, 2.67], "nice": false, "zero": false}, "axis": null},
   "y2": {"field": "F2"}}},
 {"data": {"values": [{"t": 1.63, "F": 1.72}]},
  "mark": {"type": "text", "text": "2\u2009min", "fontSize": 14, "fontWeight": "bold", "baseline": "middle", "color": "#111"},
  "encoding": {
   "x": {"field": "t", "type": "quantitative", "scale": {"domain": [0.525, 13.2], "nice": false, "zero": false}, "axis": null},
   "y": {"field": "F", "type": "quantitative", "scale": {"domain": [-0.1, 2.67], "nice": false, "zero": false}, "axis": null}}},
 {"data": {"values": [{"t": 0.28, "F": 2.38}]},
  "mark": {"type": "text", "text": "0.5\u2009mN", "fontSize": 14, "fontWeight": "bold", "baseline": "middle", "angle": 270, "color": "#111"},
  "encoding": {
   "x": {"field": "t", "type": "quantitative", "scale": {"domain": [0.525, 13.2], "nice": false, "zero": false}, "axis": null},
   "y": {"field": "F", "type": "quantitative", "scale": {"domain": [-0.1, 2.67], "nice": false, "zero": false}, "axis": null}}},
 {"data": {"values": [{"t": 0.66, "F": 0.825}]},
  "mark": {"type": "text", "text": ["10\u2009µM", "linopiridine"], "lineHeight": 19, "fontSize": 14, "fontWeight": "bold", "baseline": "middle", "color": "#111"},
  "encoding": {
   "x": {"field": "t", "type": "quantitative", "scale": {"domain": [0.525, 13.2], "nice": false, "zero": false}, "axis": null},
   "y": {"field": "F", "type": "quantitative", "scale": {"domain": [-0.1, 2.67], "nice": false, "zero": false}, "axis": null}}},
 {"data": {"values": [{"t": 0.6, "F": 0.48, "F2": 0.3}]},
  "mark": {"type": "rule", "strokeWidth": 5.5, "color": "black"},
  "encoding": {
   "x": {"field": "t", "type": "quantitative", "scale": {"domain": [0.525, 13.2], "nice": false, "zero": false}, "axis": null},
   "y": {"field": "F", "type": "quantitative", "scale": {"domain": [-0.1, 2.67], "nice": false, "zero": false}, "axis": null},
   "y2": {"field": "F2"}}},
 {"data": {"values": [{"t": 0.6, "F": 0.24}]},
  "mark": {"type": "point", "shape": "triangle-down", "filled": true, "size": 313, "color": "black", "opacity": 1},
  "encoding": {
   "x": {"field": "t", "type": "quantitative", "scale": {"domain": [0.525, 13.2], "nice": false, "zero": false}, "axis": null},
   "y": {"field": "F", "type": "quantitative", "scale": {"domain": [-0.1, 2.67], "nice": false, "zero": false}, "axis": null}}}
]
}
]
}
